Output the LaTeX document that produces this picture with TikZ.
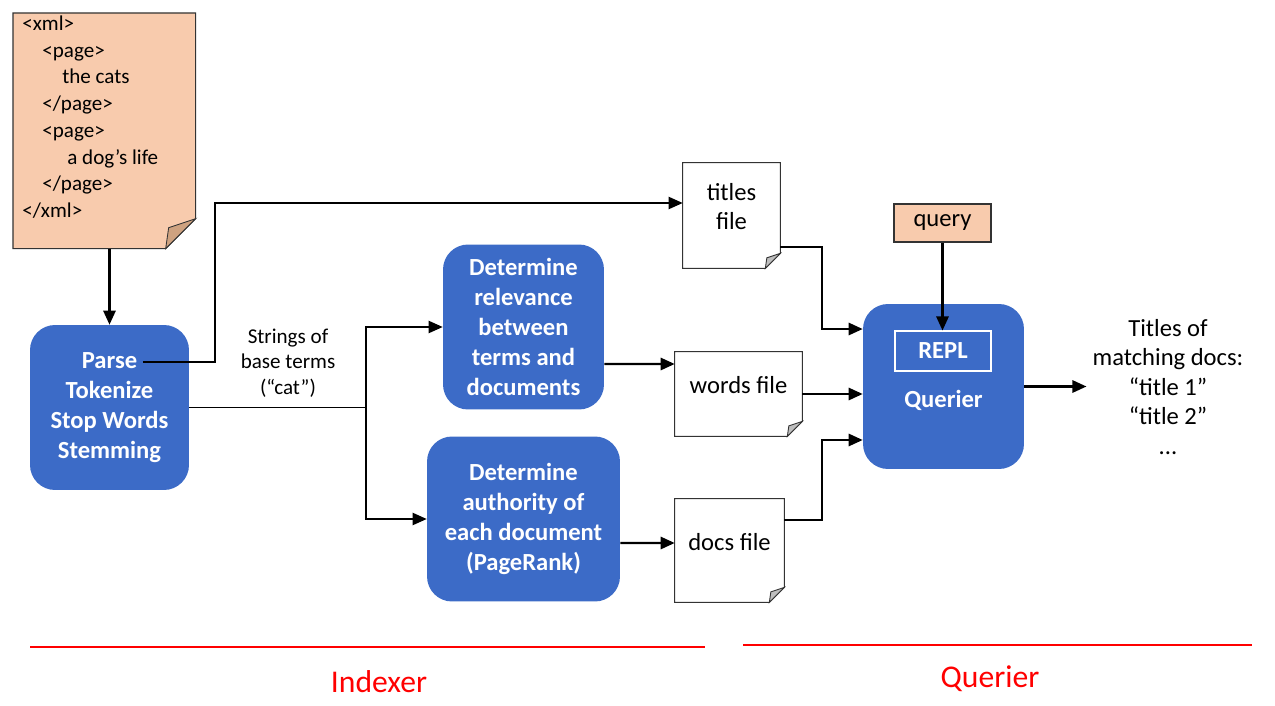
\documentclass[tikz,border=0pt]{standalone}
\usepackage{fontspec}
\setmainfont{Carlito}
\usetikzlibrary{backgrounds,positioning,arrows.meta}

\definecolor{boxblue}{RGB}{60,107,199}
\definecolor{peach}{RGB}{248,203,173}
\definecolor{peachfold}{RGB}{206,162,128}
\definecolor{foldgray}{RGB}{190,190,190}

\tikzset{
	process/.style={rectangle,rounded corners=0.5cm,fill=boxblue,text=white,
		font=\fontsize{14}{17}\selectfont\bfseries,align=center,minimum height=3.3cm},
	filebox/.style={inner sep=0pt,font=\fontsize{14}{16.5}\selectfont,align=center,text depth=0.35cm},
	note/.style={draw=black!80,fill=peach,line width=0.6pt,font=\fontsize{14}{17}\selectfont},
	xmldoc/.style={anchor=north west,inner xsep=0.18cm,inner ysep=0.05cm,font=\fontsize{12}{15.2}\selectfont},
	arrow/.style={-{Triangle[length=8pt,width=7pt]},line width=1.2pt},
	thinline/.style={line width=0.8pt},
	part/.style={text=red,font=\fontsize{18}{22}\selectfont}
}

% page outline with a folded corner, drawn behind the node
\newcommand{\pagefold}[4]{%
	\begin{scope}[on background layer]
		\filldraw[draw=black!80,fill=#3,line width=0.6pt] (#1.north west) -- (#1.north east)
			-- ([yshift=#2]#1.south east) -- ([xshift=-#2]#1.south east) -- (#1.south west) -- cycle;
		\filldraw[draw=black!80,fill=#4,line width=0.5pt] ([yshift=#2]#1.south east)
			-- ([xshift=-0.9*#2,yshift=0.7*#2]#1.south east) -- ([xshift=-#2]#1.south east) -- cycle;
	\end{scope}}

\begin{document}
\begin{tikzpicture}[x=0.02cm,y=-0.02cm]
	\useasboundingbox (0,0) rectangle (1275,706);
	
	% input document
	\node (xml) [xmldoc] at (13,13) {\parbox[t][4.6cm][t]{3.28cm}{%
			<xml>\\
			\hspace*{0.4cm}<page>\\
			\hspace*{0.8cm}the cats\\
			\hspace*{0.4cm}</page>\\
			\hspace*{0.4cm}<page>\\
			\hspace*{0.9cm}a dog’s life\\
			\hspace*{0.4cm}</page>\\
			</xml>}};
	\pagefold{xml}{0.6cm}{peach}{peachfold}
	
	% processing steps
	\node (parse) [process,minimum width=3.18cm] at (109.5,407.5) {Parse\\Tokenize\\Stop Words\\Stemming};
	\node (relevance) [process,minimum width=3.22cm] at (523.5,327) {Determine\\relevance\\between\\terms and\\documents};
	\node (authority) [process,minimum width=3.86cm] at (523.5,519) {Determine\\authority of\\each document\\(PageRank)};
	\node (querier) [process,minimum width=3.22cm] at (943.5,386.5) {};
	\node (repl) [draw=white,line width=0.6pt,text=white,font=\fontsize{14}{17}\selectfont\bfseries,
		minimum width=1.92cm,minimum height=0.8cm] at (943,351) {REPL};
	\node (queriername) [text=white,font=\fontsize{14}{17}\selectfont\bfseries] at (943.5,400) {Querier};
	\node (query) [note,minimum width=1.94cm,minimum height=0.76cm] at (942.5,223) {query};
	
	% files
	\node (titles) [filebox,minimum width=1.94cm,minimum height=2.1cm] at (731.5,215.5) {titles\\file};
	\node (words) [filebox,minimum width=2.54cm,minimum height=1.68cm] at (738.5,394) {words file};
	\node (docs) [filebox,minimum width=2.18cm,minimum height=2.06cm] at (729.5,550.5) {docs file};
	\foreach \myfile in {titles,words,docs} {
		\pagefold{\myfile}{0.3cm}{white}{foldgray}
	}
	
	% labels
	\node (strings) [font=\fontsize{12}{14.6}\selectfont,align=center] at (288,363) {Strings of\\base terms\\(“cat”)};
	\node (output) [font=\fontsize{14}{16.8}\selectfont,align=center] at (1168,387) {Titles of\\matching docs:\\“title 1”\\“title 2”\\...};
	
	% connectors of the indexer
	\draw[arrow] (parse.north |- xml.south) -- (parse.north);
	\coordinate (parseout) at ([xshift=0.67cm,yshift=0.91cm]parse.center);
	\draw[arrow,thinline] (parseout) -- ++(72,0) |- ([yshift=0.25cm]titles.west);
	\coordinate (split) at (366,407.5);
	\draw[thinline] (parse.east) -- (split);
	\draw[arrow,thinline] (split) |- (relevance.west);
	\draw[arrow,thinline] (split) |- (authority.west);
	\draw[arrow] ([yshift=-0.74cm]relevance.east) -- ([yshift=0.6cm]words.west);
	\draw[arrow] ([yshift=-0.48cm]authority.east) -- ([yshift=0.15cm]docs.west);
	
	% connectors of the querier
	\draw[arrow] ([yshift=-0.63cm]titles.east) -- ++(42,0) |- ([yshift=1.15cm]querier.west);
	\draw[arrow] (words.east) -- (words.east -| querier.west);
	\draw[arrow] ([yshift=0.61cm]docs.east) -- ++(38,0) |- ([yshift=-1.07cm]querier.west);
	\draw[arrow] (query) -- (query |- repl.north);
	\draw[arrow] (querier.east) -- (querier.east -| output.west);
	
	% parts
	\draw[red,line width=1.1pt] (30,647) -- (705,647);
	\draw[red,line width=1.1pt] (743,645) -- (1252,645);
	\node (indexer) [part] at (379,682) {Indexer};
	\node (querierpart) [part] at (990,679) {Querier};
\end{tikzpicture}
\end{document}
